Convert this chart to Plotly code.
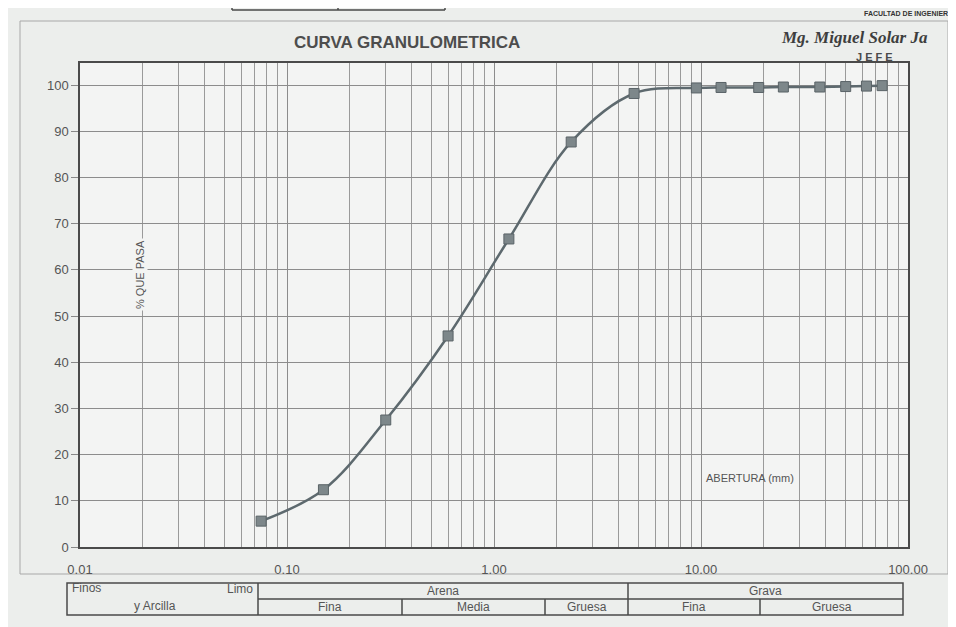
import plotly.graph_objects as go

# --- Data (sieve opening in mm vs % passing) ---
abertura_mm = [75, 63, 50, 37.5, 25, 19, 12.5, 9.5, 4.75, 2.36, 1.18, 0.60, 0.30, 0.15, 0.075]
pct_pasa = [99.9, 99.8, 99.7, 99.6, 99.6, 99.5, 99.5, 99.4, 98.2, 87.7, 66.7, 45.7, 27.5, 12.4, 5.6]

x_tickvals = [0.01, 0.1, 1, 10, 100]
x_ticktext = ["0.01", "0.10", "1.00", "10.00", "100.00"]
y_tickvals = [0, 10, 20, 30, 40, 50, 60, 70, 80, 90, 100]

# classification strip under the chart
clase_top = ["Arena", "Grava"]
clase_sub = ["Fina", "Media", "Gruesa", "Fina", "Gruesa"]

# --- Figure geometry (pixels); page body adds an 8px offset ---
S = 8
W, H = 948, 619
L, R, T, B = 72, 48, 55, 80
pw, ph = W - L - R, H - T - B


def px(x):
    # x given in window pixels
    return (x - S - L) / pw


def py(y):
    return (H - B - (y - S)) / ph


minor_x = [m * 10 ** e for e in range(-2, 2) for m in range(2, 10)]

TXT = "#555555"
FONT = "Liberation Sans, Arial, sans-serif"

fig = go.Figure()

fig.add_trace(
    go.Scatter(
        x=abertura_mm,
        y=pct_pasa,
        mode="lines+markers",
        line=dict(color="#5d696e", width=2.5, shape="spline", smoothing=1.0),
        marker=dict(symbol="square", size=10, color="#7d878a",
                    line=dict(color="#5a6367", width=1)),
        showlegend=False,
        hoverinfo="x+y",
    )
)

fig.update_xaxes(
    type="log",
    range=[-2, 2],
    tickvals=x_tickvals,
    ticktext=x_ticktext,
    showgrid=True,
    gridcolor="#8c8c8c",
    gridwidth=1,
    minor=dict(tickvals=minor_x, showgrid=True, gridcolor="#9a9a9a", gridwidth=1),
    showline=True,
    linecolor="#4a4a4a",
    linewidth=1.5,
    mirror=True,
    ticks="",
    ticklabelstandoff=10,
    tickfont=dict(family=FONT, size=13, color=TXT),
    zeroline=False,
)

fig.update_yaxes(
    range=[0, 104.8],
    tickvals=y_tickvals,
    showgrid=True,
    gridcolor="#8c8c8c",
    gridwidth=1,
    showline=True,
    linecolor="#4a4a4a",
    linewidth=1.5,
    mirror=True,
    ticks="outside",
    ticklen=7,
    tickcolor="#888888",
    tickfont=dict(family=FONT, size=13, color=TXT),
    zeroline=False,
)

shapes = []
line_c = dict(color="#4a4a4a", width=1.5)

# outer chart-area frame
shapes.append(dict(type="rect", xref="paper", yref="paper",
                   x0=px(20), x1=px(948), y0=py(574), y1=py(21),
                   line=dict(color="#a8a8a8", width=1), layer="below"))

# fragment of the header box at the top
for (xa, ya, xb, yb) in [(232, 0, 232, 10), (232, 10, 445, 10), (338, 0, 338, 10), (445, 0, 445, 10)]:
    shapes.append(dict(type="line", xref="paper", yref="paper",
                       x0=px(xa), y0=py(ya), x1=px(xb), y1=py(yb), line=line_c))

# classification strip
tx = [67, 258, 402, 545, 628, 760, 903]
ty_top, ty_mid, ty_bot = 583, 599, 615
shapes.append(dict(type="rect", xref="paper", yref="paper",
                   x0=px(tx[0]), x1=px(tx[-1]), y0=py(ty_bot), y1=py(ty_top), line=line_c))
shapes.append(dict(type="line", xref="paper", yref="paper",
                   x0=px(tx[1]), x1=px(tx[-1]), y0=py(ty_mid), y1=py(ty_mid), line=line_c))
for xv in [tx[1], tx[4]]:
    shapes.append(dict(type="line", xref="paper", yref="paper",
                       x0=px(xv), x1=px(xv), y0=py(ty_top), y1=py(ty_bot), line=line_c))
for xv in [tx[2], tx[3], tx[5]]:
    shapes.append(dict(type="line", xref="paper", yref="paper",
                       x0=px(xv), x1=px(xv), y0=py(ty_mid), y1=py(ty_bot), line=line_c))

annotations = []


def note(text, x, y, size=12, xanchor="center", **kw):
    annotations.append(dict(text=text, x=px(x), y=py(y), xref="paper", yref="paper",
                            showarrow=False, xanchor=xanchor, yanchor="middle",
                            font=dict(family=kw.pop("family", FONT), size=size,
                                      color=kw.pop("color", TXT)), **kw))


note("<b>CURVA GRANULOMETRICA</b>", 407, 43, size=17, color="#4d4d4d")
note("<b><i>Mg. Miguel Solar Ja</i></b>", 779, 37, size=17, xanchor="left",
     family="Liberation Serif, serif", color="#3e3e3e")
note("<b>J E F E</b>", 874, 57, size=11, color="#4a4a4a")
note("<b>FACULTAD DE INGENIER</b>", 950, 13, size=7, xanchor="right", color="#333")
note("ABERTURA (mm)", 750, 478, size=11)
note("% QUE PASA", 140, 275, size=11, textangle=-90, bgcolor="#f3f4f3")

# strip labels
note("Finos", 70, 588, xanchor="left")
note("Limo", 255, 589, xanchor="right")
note("y Arcilla", 155, 606)
note(clase_top[0], (tx[1] + tx[4]) / 2, 591)
note(clase_top[1], (tx[4] + tx[6]) / 2, 591)
spans = [(tx[1], tx[2]), (tx[2], tx[3]), (tx[3], tx[4]), (tx[4], tx[5]), (tx[5], tx[6])]
for lab, (a, b) in zip(clase_sub, spans):
    note(lab, (a + b) / 2, 607)

fig.update_layout(
    width=W,
    height=H,
    margin=dict(l=L, r=R, t=T, b=B),
    paper_bgcolor="#eceeec",
    plot_bgcolor="#f3f4f3",
    shapes=shapes,
    annotations=annotations,
    showlegend=False,
)

fig.write_html("out.html")
